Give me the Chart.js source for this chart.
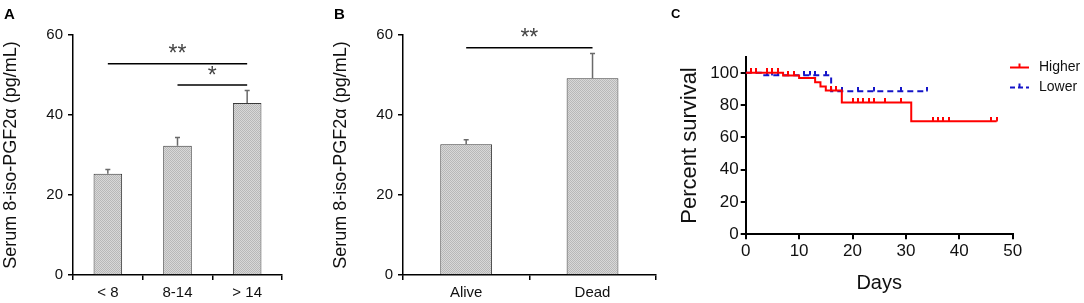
<!DOCTYPE html>
<html><head><meta charset="utf-8">
<script src="https://cdn.jsdelivr.net/npm/chart.js@4/dist/chart.umd.min.js"></script>
<style>
html,body{margin:0;padding:0;background:#fff;width:1084px;height:303px;overflow:hidden}
.p{position:absolute;top:0}
canvas{display:block}
</style></head><body>
<div class="p" style="left:0px"><canvas id="cA" width="320" height="303"></canvas></div>
<div class="p" style="left:330px"><canvas id="cB" width="330" height="303"></canvas></div>
<div class="p" style="left:650px"><canvas id="cC" width="434" height="303"></canvas></div>
<script>
// ---------- data ----------
const groupsA = ['< 8', '8-14', '> 14'];
const meansA = [25.3, 32.3, 43.0];
const semA = [1.1, 2.1, 3.1];
const sigPairsA = [[0, 2], [1, 2]];
const sigLabelsA = ['**', '*'];
const sigLevelsA = [52.8, 47.5];

const groupsB = ['Alive', 'Dead'];
const meansB = [32.7, 49.2];
const semB = [1.1, 6.2];
const sigPairsB = [[0, 1]];
const sigLabelsB = ['**'];
const sigLevelsB = [56.8];

const yTitleAB = 'Serum 8-iso-PGF2\u03b1 (pg/mL)';

const higherEventDays = [0, 7, 10, 13, 14, 15, 18, 31];
const higherSurvival = [100, 98.4, 96.8, 94.2, 91.6, 89.0, 81.6, 70.0];
const higherCensorDays = [1, 2, 4, 5, 6, 8, 9, 16, 17, 20, 21, 22, 23, 24, 26, 29, 35, 36, 37, 38, 46, 47];
const lowerEventDays = [0, 3, 16];
const lowerSurvival = [100, 98.5, 88.6];
const lowerCensorDays = [4, 5, 6, 8, 11, 12, 13, 15, 18, 21, 24, 29, 34];
const survivalLabels = ['Higher', 'Lower'];
const survivalTicksY = [0, 20, 40, 60, 80, 100];

const FONT = "'Liberation Sans', Arial, Helvetica, sans-serif";

// ---------- helpers ----------
function makePattern() {
  const c = document.createElement('canvas');
  c.width = 2; c.height = 2;
  const g = c.getContext('2d');
  g.fillStyle = '#d8d8d8'; g.fillRect(0, 0, 2, 2);
  g.fillStyle = '#b8b8b8'; g.fillRect(0, 0, 1, 1); g.fillRect(1, 1, 1, 1);
  return g.createPattern(c, 'repeat');
}
const barFill = makePattern();

function panelLabel(text, x, y, size) {
  return {
    id: 'panelLabel',
    afterDraw(chart) {
      const ctx = chart.ctx;
      ctx.save();
      ctx.font = 'bold ' + size + 'px ' + FONT;
      ctx.fillStyle = '#000';
      ctx.textBaseline = 'alphabetic';
      ctx.textAlign = 'left';
      ctx.fillText(text, x, y);
      ctx.restore();
    }
  };
}

function errorAndSig(means, sems, pairs, labels, levels) {
  return {
    id: 'errorAndSig',
    afterDatasetsDraw(chart) {
      const ctx = chart.ctx;
      const ys = chart.scales.y;
      const meta = chart.getDatasetMeta(0);
      ctx.save();
      ctx.strokeStyle = '#6a6a6a';
      ctx.lineWidth = 1.5;
      meta.data.forEach((bar, i) => {
        const yTop = ys.getPixelForValue(means[i] + sems[i]);
        const yBar = ys.getPixelForValue(means[i]);
        ctx.beginPath();
        ctx.moveTo(bar.x, yBar);
        ctx.lineTo(bar.x, yTop);
        ctx.moveTo(bar.x - 2.5, yTop);
        ctx.lineTo(bar.x + 2.5, yTop);
        ctx.stroke();
      });
      ctx.strokeStyle = '#000';
      ctx.fillStyle = '#444';
      ctx.lineWidth = 1.5;
      pairs.forEach((p, k) => {
        const x1 = meta.data[p[0]].x, x2 = meta.data[p[1]].x;
        const y = ys.getPixelForValue(levels[k]);
        ctx.beginPath();
        ctx.moveTo(x1, y); ctx.lineTo(x2, y);
        ctx.stroke();
        ctx.font = '23px ' + FONT;
        ctx.textAlign = 'center';
        ctx.textBaseline = 'alphabetic';
        const m = ctx.measureText(labels[k]);
        const gh = m.actualBoundingBoxAscent - m.actualBoundingBoxDescent;
        const target = y - 7;
        ctx.fillText(labels[k], (x1 + x2) / 2, target + m.actualBoundingBoxAscent - gh / 2);
      });
      ctx.restore();
    }
  };
}

function barConfig(groups, means, sems, pairs, labels, levels, padRight, label) {
  return {
    type: 'bar',
    data: {
      labels: groups,
      datasets: [{
        data: means,
        backgroundColor: barFill,
        borderColor: '#3a3a3a',
        borderWidth: 1,
        barPercentage: 0.41,
        categoryPercentage: 1.0
      }]
    },
    options: {
      responsive: false,
      animation: false,
      devicePixelRatio: 1,
      layout: { padding: { left: 0, right: padRight, top: 35, bottom: 0 } },
      plugins: { legend: { display: false }, tooltip: { enabled: false } },
      scales: {
        x: {
          offset: true,
          grid: { offset: true, drawOnChartArea: false, drawTicks: true, tickLength: 5, color: '#000', lineWidth: 1.5 },
          border: { color: '#000', width: 1.5 },
          ticks: { color: '#111', font: { family: FONT, size: 15 }, padding: 4 },
          afterFit(s) { s.height = 28; }
        },
        y: {
          min: 0, max: 60,
          ticks: { stepSize: 20, color: '#111', font: { family: FONT, size: 15 }, padding: 5 },
          grid: { drawOnChartArea: false, drawTicks: true, tickLength: 5, color: '#000', lineWidth: 1.5 },
          border: { color: '#000', width: 1.5 },
          title: { display: true, text: yTitleAB, color: '#111', font: { family: FONT, size: 18 }, padding: { top: 0, bottom: 0 } },
          afterFit(s) { s.width = 73; }
        }
      }
    },
    plugins: [errorAndSig(means, sems, pairs, labels, levels), panelLabel(label, 4, 19, 15)]
  };
}

new Chart(document.getElementById('cA'), barConfig(groupsA, meansA, semA, sigPairsA, sigLabelsA, sigLevelsA, 38, 'A'));
new Chart(document.getElementById('cB'), barConfig(groupsB, meansB, semB, sigPairsB, sigLabelsB, sigLevelsB, 4.3, 'B'));

// ---------- survival ----------
function buildKM(evDays, surv, cDays) {
  const pts = evDays.map((d, i) => ({ x: d, y: surv[i], c: false }));
  cDays.forEach(d => {
    let lvl = surv[0];
    evDays.forEach((e, i) => { if (e <= d) lvl = surv[i]; });
    pts.push({ x: d, y: lvl, c: true });
  });
  pts.sort((a, b) => a.x - b.x);
  return pts;
}
function tickImage(color) {
  const c = document.createElement('canvas');
  c.width = 2; c.height = 9;
  const g = c.getContext('2d');
  g.fillStyle = color;
  g.fillRect(0, 0, 2, 4.5);
  return c;
}
const redTick = tickImage('#ff0000');
const blueTick = tickImage('#1414c8');
const higherPts = buildKM(higherEventDays, higherSurvival, higherCensorDays);
const lowerPts = buildKM(lowerEventDays, lowerSurvival, lowerCensorDays);

const survLegend = {
  id: 'survLegend',
  afterDraw(chart) {
    const ctx = chart.ctx;
    ctx.save();
    const items = [
      { color: '#ff0000', dash: [], y: 67.5, text: survivalLabels[0] },
      { color: '#1414c8', dash: [5, 3], y: 87.5, text: survivalLabels[1] }
    ];
    items.forEach(it => {
      ctx.strokeStyle = it.color;
      ctx.lineWidth = 2;
      ctx.setLineDash(it.dash);
      ctx.beginPath();
      ctx.moveTo(360, it.y); ctx.lineTo(379, it.y);
      ctx.stroke();
      ctx.setLineDash([]);
      ctx.beginPath();
      ctx.moveTo(369.5, it.y); ctx.lineTo(369.5, it.y - 4);
      ctx.stroke();
      ctx.fillStyle = '#111';
      ctx.font = '14px ' + FONT;
      ctx.textBaseline = 'middle';
      ctx.textAlign = 'left';
      ctx.fillText(it.text, 389, it.y);
    });
    ctx.restore();
  }
};

new Chart(document.getElementById('cC'), {
  type: 'line',
  data: {
    datasets: [
      {
        label: survivalLabels[0],
        data: higherPts,
        stepped: 'before',
        borderColor: '#ff0000',
        borderWidth: 2,
        fill: false,
        pointStyle: redTick,
        pointRadius: ctx => (ctx.raw && ctx.raw.c ? 5 : 0),
        pointHoverRadius: 0
      },
      {
        label: survivalLabels[1],
        data: lowerPts,
        stepped: 'before',
        borderColor: '#1414c8',
        borderWidth: 2,
        borderDash: [6, 4],
        fill: false,
        pointStyle: blueTick,
        pointRadius: ctx => (ctx.raw && ctx.raw.c ? 5 : 0),
        pointHoverRadius: 0
      }
    ]
  },
  options: {
    responsive: false,
    animation: false,
    devicePixelRatio: 1,
    layout: { padding: { left: 23, right: 71.3, top: 56.7, bottom: 4 } },
    plugins: { legend: { display: false }, tooltip: { enabled: false } },
    scales: {
      x: {
        type: 'linear', min: 0, max: 50,
        ticks: { stepSize: 10, color: '#111', font: { family: FONT, size: 17 }, padding: 2, maxRotation: 0 },
        grid: { drawOnChartArea: false, drawTicks: true, tickLength: 5, color: '#000', lineWidth: 2 },
        border: { color: '#000', width: 2 },
        title: { display: true, text: 'Days', color: '#111', font: { family: FONT, size: 20 }, padding: { top: 4, bottom: 4 } },
        afterFit(s) { s.height = 64.7; }
      },
      y: {
        type: 'linear', min: 0, max: 110,
        ticks: { color: '#111', font: { family: FONT, size: 17 }, padding: 2 },
        afterBuildTicks(s) { s.ticks = survivalTicksY.map(v => ({ value: v })); },
        grid: { drawOnChartArea: false, drawTicks: true, tickLength: 5, color: '#000', lineWidth: 2 },
        border: { color: '#000', width: 2 },
        title: { display: true, text: 'Percent survival', color: '#111', font: { family: FONT, size: 22 }, padding: { top: 4, bottom: 4 } },
        afterFit(s) { s.width = 72.7; }
      }
    }
  },
  plugins: [survLegend, panelLabel('C', 21, 17.5, 13)]
});
</script>
</body></html>
